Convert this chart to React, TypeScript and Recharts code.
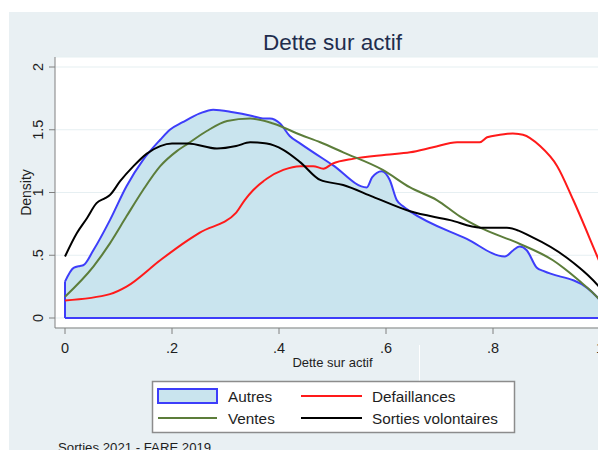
import { ComposedChart, Area, Line, XAxis, YAxis, CartesianGrid, ReferenceLine } from "recharts";

// Kernel densities of "Dette sur actif"
const AUTRES_X = [0, 0.016, 0.028, 0.034, 0.053, 0.084, 0.115, 0.146, 0.178, 0.196, 0.22, 0.252, 0.277, 0.314, 0.35, 0.37, 0.383, 0.402, 0.42, 0.44, 0.5, 0.564, 0.574, 0.592, 0.607, 0.62, 0.632, 0.645, 0.751, 0.822, 0.838, 0.85, 0.863, 0.882, 0.894, 0.976, 0.996, 1];
const AUTRES_Y = [0.29, 0.4, 0.415, 0.42, 0.54, 0.78, 1.05, 1.26, 1.42, 1.5, 1.56, 1.63, 1.66, 1.64, 1.61, 1.59, 1.59, 1.55, 1.45, 1.39, 1.22, 1.04, 1.12, 1.17, 1.1, 0.94, 0.89, 0.85, 0.63, 0.49, 0.54, 0.57, 0.54, 0.4, 0.375, 0.24, 0.16, 0.14];

const DEFAILLANCES_X = [0, 0.084, 0.115, 0.178, 0.23, 0.252, 0.32, 0.336, 0.352, 0.377, 0.408, 0.44, 0.464, 0.483, 0.5, 0.54, 0.6, 0.645, 0.688, 0.733, 0.775, 0.789, 0.813, 0.837, 0.856, 0.888, 0.92, 0.95, 0.996, 1];
const DEFAILLANCES_Y = [0.14, 0.19, 0.25, 0.46, 0.62, 0.68, 0.84, 0.94, 1.02, 1.11, 1.18, 1.21, 1.21, 1.19, 1.23, 1.27, 1.3, 1.32, 1.36, 1.4, 1.4, 1.44, 1.46, 1.47, 1.46, 1.37, 1.21, 0.94, 0.48, 0.44];

const VENTES_X = [0, 0.053, 0.084, 0.115, 0.146, 0.178, 0.209, 0.23, 0.265, 0.303, 0.346, 0.389, 0.44, 0.477, 0.52, 0.594, 0.645, 0.695, 0.738, 0.776, 0.845, 0.912, 0.963, 0.996, 1];
const VENTES_Y = [0.17, 0.41, 0.595, 0.81, 1.02, 1.21, 1.33, 1.39, 1.49, 1.57, 1.59, 1.55, 1.46, 1.4, 1.32, 1.18, 1.04, 0.94, 0.81, 0.72, 0.6, 0.46, 0.29, 0.16, 0.14];

const SORTIES_X = [0, 0.022, 0.041, 0.059, 0.075, 0.084, 0.103, 0.128, 0.153, 0.178, 0.2, 0.23, 0.284, 0.32, 0.346, 0.377, 0.408, 0.44, 0.477, 0.52, 0.576, 0.645, 0.72, 0.776, 0.826, 0.875, 0.938, 0.996, 1];
const SORTIES_Y = [0.49, 0.675, 0.795, 0.915, 0.955, 0.98, 1.09, 1.21, 1.31, 1.37, 1.39, 1.39, 1.35, 1.37, 1.4, 1.39, 1.34, 1.24, 1.1, 1.06, 0.965, 0.85, 0.78, 0.72, 0.72, 0.64, 0.48, 0.26, 0.24];

const X_TICKS = [0, 0.2, 0.4, 0.6, 0.8, 1];
const Y_TICKS = [0, 0.5, 1, 1.5, 2];

const BLUE = "#3d3dfa";
const FILL = "#c9e4ee";
const RED = "#ff1a1a";
const GREEN = "#5c7d3a";
const BLACK = "#000";
const BG = "#e9f0f3";
const AXIS = "#808080";
const INK = "#1e1e1e";
const FONT = "'Liberation Sans', Arial, sans-serif";

const zip = (xs: number[], ys: number[]) => xs.map((x, i) => ({ x, y: ys[i] }));

const autres = zip(AUTRES_X, AUTRES_Y);
const defaillances = zip(DEFAILLANCES_X, DEFAILLANCES_Y);
const ventes = zip(VENTES_X, VENTES_Y);
const sorties = zip(SORTIES_X, SORTIES_Y);

// stata style: ".2" instead of "0.2"
const fmt = (v: number) => (v === 0 ? "0" : String(v).replace(/^0\./, "."));

function XTick(props: any) {
  const { x, y, payload } = props;
  return (
    <text x={x} y={y + 12} textAnchor="middle" dominantBaseline="central" fontSize={14.5} fill={INK} fontFamily={FONT}>
      {fmt(payload.value)}
    </text>
  );
}

function YTick(props: any) {
  const { x, y, payload } = props;
  return (
    <text
      transform={`translate(${x - 9},${y}) rotate(-90)`}
      textAnchor="middle"
      dominantBaseline="central"
      fontSize={14.5}
      fill={INK}
      fontFamily={FONT}
    >
      {fmt(payload.value)}
    </text>
  );
}

export default function App() {
  return (
    <div
      style={{
        position: "fixed",
        left: 9,
        top: 12,
        width: 589,
        height: 438,
        overflow: "hidden",
        background: BG,
        fontFamily: FONT,
      }}
    >
      <ComposedChart width={620} height={438} margin={{ top: 45, right: 19, bottom: 92, left: 0 }}>
        <CartesianGrid vertical={false} fill="#fff" stroke="#e6eff2" strokeWidth={1.2} />
        <XAxis
          type="number"
          dataKey="x"
          domain={[0, 1]}
          ticks={X_TICKS}
          padding={{ left: 10, right: 10 }}
          height={30}
          tickSize={6}
          stroke={AXIS}
          tick={(p: any) => <XTick {...p} />}
        />
        <YAxis
          type="number"
          dataKey="y"
          domain={[0, 2]}
          ticks={Y_TICKS}
          padding={{ top: 10, bottom: 10 }}
          width={46}
          tickSize={6}
          stroke={AXIS}
          tick={(p: any) => <YTick {...p} />}
        />
        <Area
          data={autres}
          dataKey="y"
          type="monotone"
          baseValue={0}
          fill={FILL}
          fillOpacity={1}
          stroke={BLUE}
          strokeWidth={2}
          isAnimationActive={false}
        />
        {/* closing edges of the Autres outline */}
        <ReferenceLine segment={[{ x: 0, y: 0 }, { x: 1, y: 0 }]} stroke={BLUE} strokeWidth={2} />
        <ReferenceLine segment={[{ x: 0, y: 0 }, { x: 0, y: AUTRES_Y[0] }]} stroke={BLUE} strokeWidth={2} />
        <Line data={defaillances} dataKey="y" type="monotone" stroke={RED} strokeWidth={2} dot={false} isAnimationActive={false} />
        <Line data={ventes} dataKey="y" type="monotone" stroke={GREEN} strokeWidth={2} dot={false} isAnimationActive={false} />
        <Line data={sorties} dataKey="y" type="monotone" stroke={BLACK} strokeWidth={2} dot={false} isAnimationActive={false} />
      </ComposedChart>

      <svg
        width={589}
        height={438}
        style={{ position: "absolute", left: 0, top: 0, pointerEvents: "none" }}
        fontFamily={FONT}
      >
        <text x={323.5} y={38} textAnchor="middle" fontSize={22.5} fill="#1f2d4d">
          Dette sur actif
        </text>
        <text transform="translate(16.5,180.5) rotate(-90)" textAnchor="middle" dominantBaseline="central" fontSize={14} fill={INK}>
          Density
        </text>
        <text x={323.5} y={354.5} textAnchor="middle" fontSize={13} fill={INK}>
          Dette sur actif
        </text>
        <line x1={410.5} x2={410.5} y1={333} y2={369} stroke="#fff" />

        {/* legend */}
        <rect x={143.5} y={369.5} width={362} height={51} fill="#fff" stroke="#8c8c8c" strokeWidth={1.5} />
        <rect x={149} y={377} width={59} height={14} fill={FILL} stroke={BLUE} strokeWidth={2} />
        <text x={219} y={389.5} fontSize={15.3} fill={INK}>Autres</text>
        <line x1={292} x2={353} y1={384} y2={384} stroke={RED} strokeWidth={2} />
        <text x={363} y={389.5} fontSize={15.3} fill={INK}>Defaillances</text>
        <line x1={149} x2={208} y1={406} y2={406} stroke={GREEN} strokeWidth={2} />
        <text x={219} y={411.5} fontSize={15.3} fill={INK}>Ventes</text>
        <line x1={292} x2={353} y1={406} y2={406} stroke={BLACK} strokeWidth={2} />
        <text x={363} y={411.5} fontSize={15.3} fill={INK}>Sorties volontaires</text>

        <text x={49} y={439.5} fontSize={13.2} fill={INK}>
          Sorties 2021 - FARE 2019
        </text>
      </svg>
    </div>
  );
}
